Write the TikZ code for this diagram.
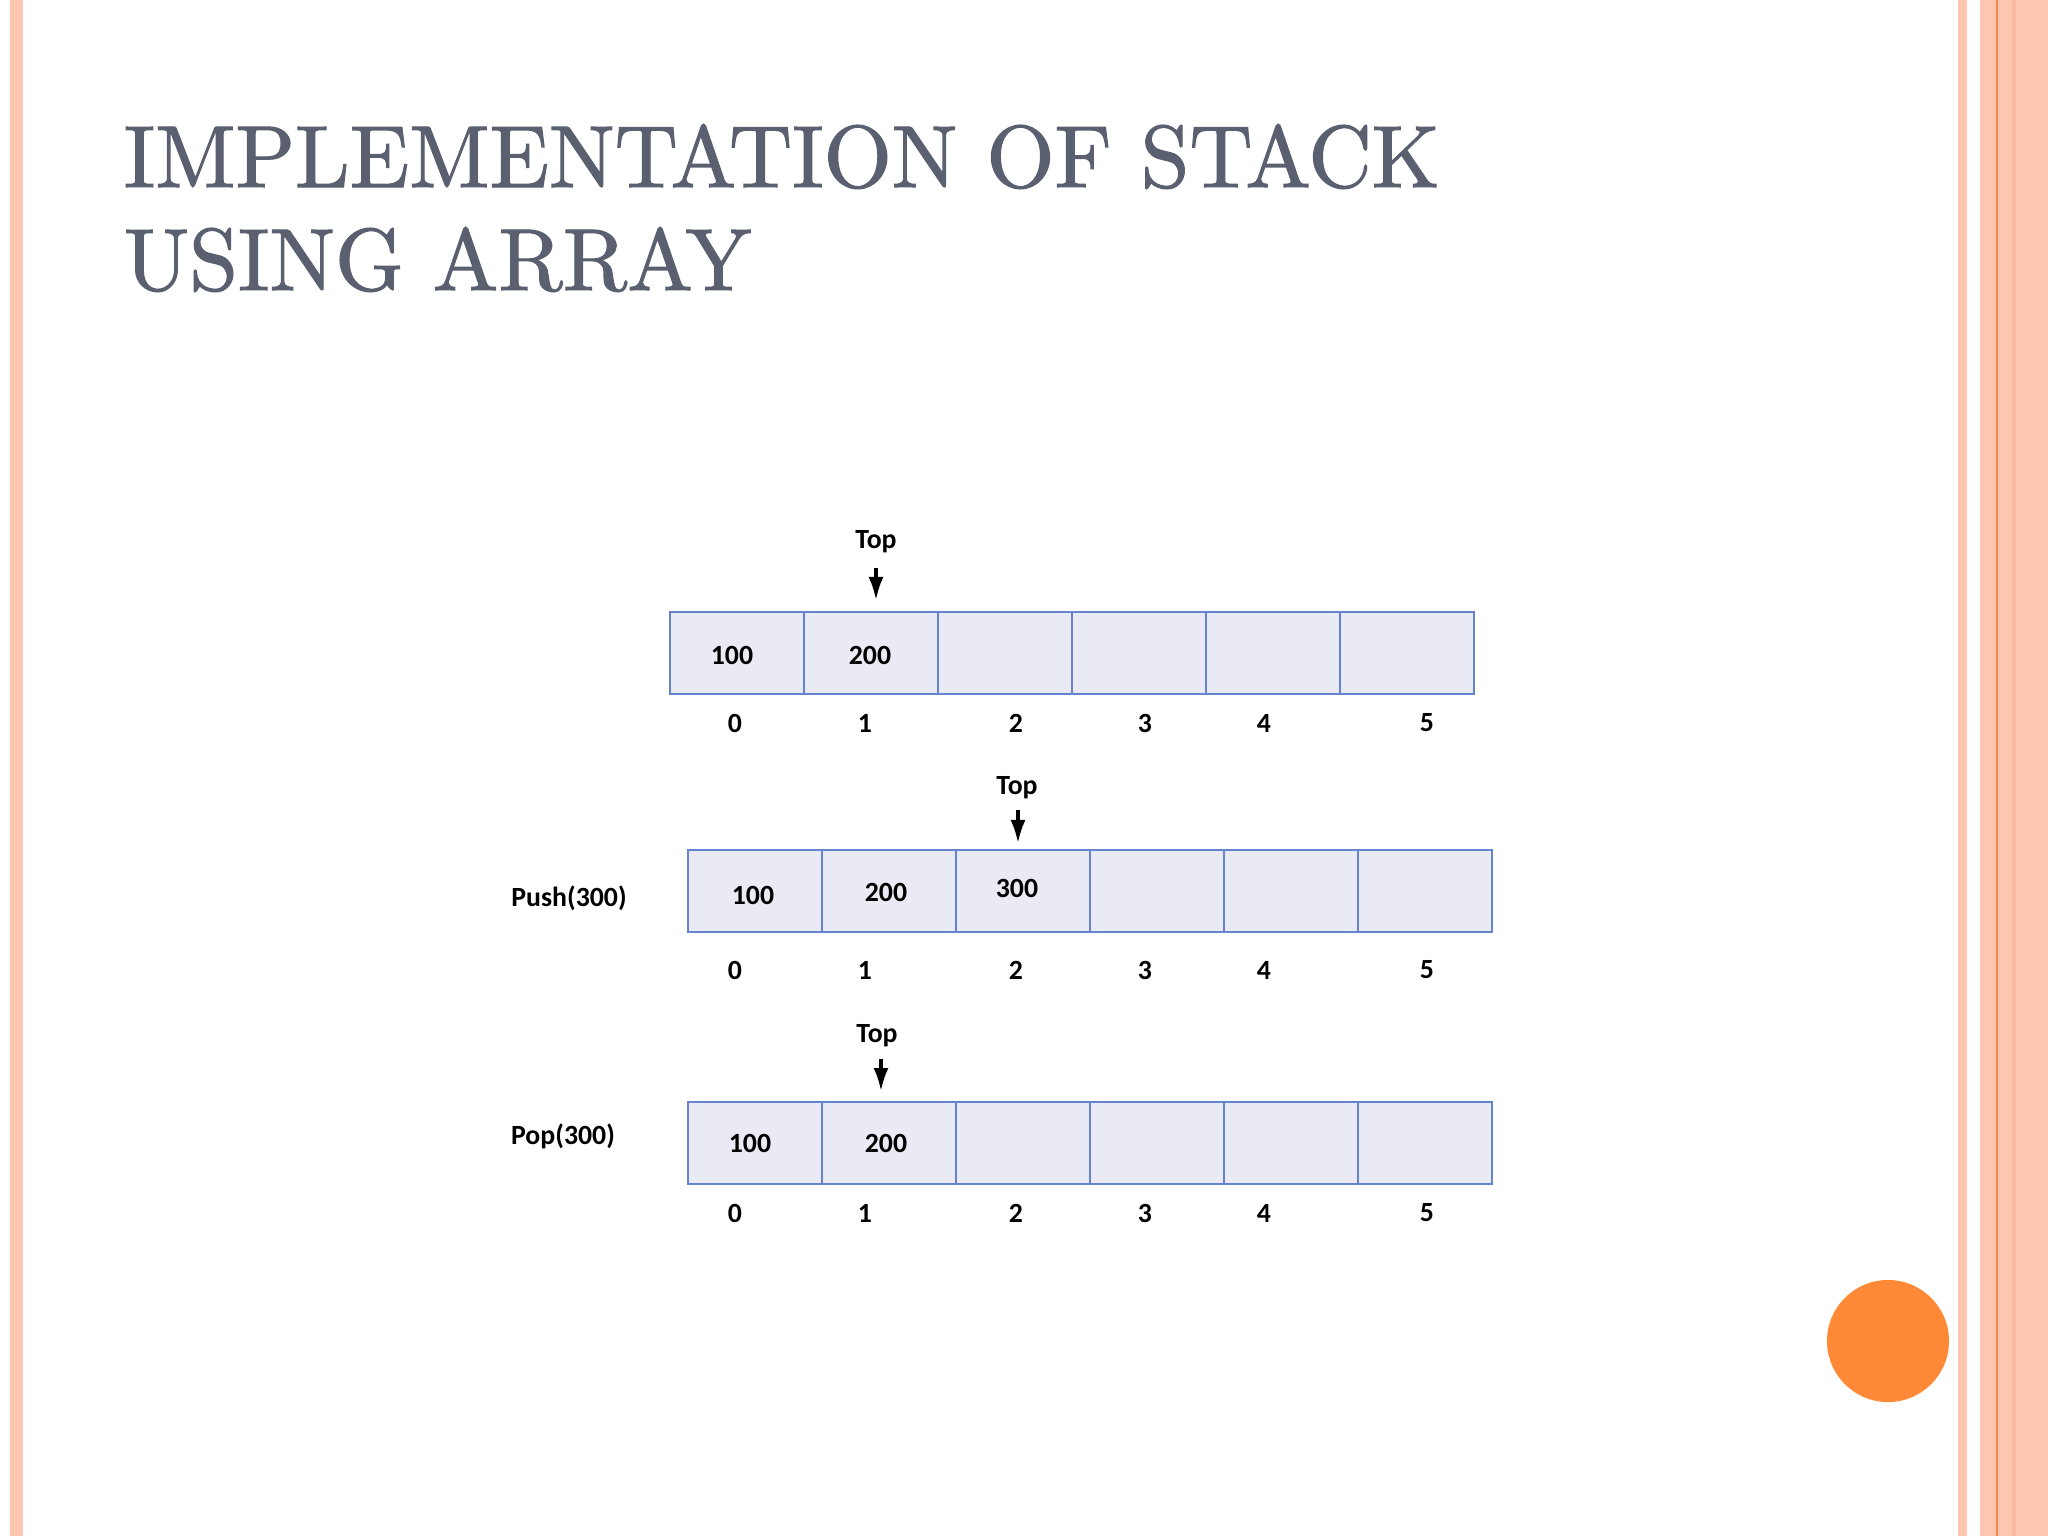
\documentclass[tikz,border=0pt]{standalone}
\usepackage{fontspec}
\newfontfamily\calfont{Carlito}
\newfontfamily\titlefont{lmroman10-regular.otf}[FakeBold=1.3]
\usetikzlibrary{arrows.meta}
\definecolor{peach}{RGB}{252,198,176}
\definecolor{peachdark}{RGB}{250,186,162}
\definecolor{orangeline}{RGB}{247,137,79}
\definecolor{dotorange}{RGB}{255,137,54}
\definecolor{titlegray}{RGB}{90,96,112}
\definecolor{cellfill}{RGB}{233,234,244}
\definecolor{cellline}{RGB}{100,132,208}
\tikzset{
  x=0.01cm, y=-0.01cm,
  cellbox/.style={draw=cellline, line width=1.6pt*0.2845, fill=cellfill, minimum width=1.34cm, minimum height=0.82cm, inner sep=0pt, outer sep=0pt},
  lbl/.style={font=\calfont\bfseries\fontsize{7.9}{9}\selectfont, inner sep=0pt, text=black},
  titletxt/.style={font=\titlefont\fontsize{25}{29}\selectfont, text=titlegray, inner sep=0pt, anchor=base west, xscale=0.995, transform shape},
  toparrow/.style={-{Latex[length=2.3mm,width=1.5mm]}, line width=0.9pt, black}
}
\begin{document}
\begin{tikzpicture}
\useasboundingbox (0,0) rectangle (2048,1536);
\fill[white] (0,0) rectangle (2048,1536);
% side decorations
\fill[peach] (10,0) rectangle (23,1536);
\fill[peach] (1958,0) rectangle (1967,1536);
\fill[peach] (1980,0) rectangle (2048,1536);
\fill[peachdark] (2012,0) rectangle (2016,1536);
\fill[orangeline] (1996,0) rectangle (1998,1536);
\fill[dotorange] (1888,1341) circle[radius=0.61cm];
% title
\node[titletxt] (title1) at (123,187) {IMPLEMENTATION OF STACK};
\node[titletxt] (title2) at (123,290) {USING ARRAY};
% ---------- array 1 ----------
\foreach \i/\cx in {0/737,1/871,2/1005,3/1139,4/1273,5/1407}
  \node[cellbox] (a\i) at (\cx,653) {};
\node[lbl] (a1v0) at (732,655) {100};
\node[lbl] (a1v1) at (870,655) {200};
\node[lbl] (a1top) at (876,542) {Top};
\coordinate (a1s) at (876,568);
\coordinate (a1e) at (876,600);
\draw[toparrow] (a1s) -- (a1e);
% ---------- array 2 ----------
\foreach \i/\cx in {0/755,1/889,2/1023,3/1157,4/1291,5/1425}
  \node[cellbox] (b\i) at (\cx,891) {};
\node[lbl] (b1v0) at (753,895) {100};
\node[lbl] (b1v1) at (886,892) {200};
\node[lbl] (b1v2) at (1017,888) {300};
\node[lbl] (b1top) at (1017,788) {Top};
\coordinate (b1s) at (1018,810);
\coordinate (b1e) at (1018,843);
\draw[toparrow] (b1s) -- (b1e);
\node[lbl] (push) at (569,898) {Push(300)};
% ---------- array 3 ----------
\foreach \i/\cx in {0/755,1/889,2/1023,3/1157,4/1291,5/1425}
  \node[cellbox] (c1\i) at (\cx,1143) {};
\node[lbl] (c1v0) at (750,1143) {100};
\node[lbl] (c1v1) at (886,1143) {200};
\node[lbl] (c1top) at (877,1036) {Top};
\coordinate (c1s) at (881,1059);
\coordinate (c1e) at (881,1091);
\draw[toparrow] (c1s) -- (c1e);
\node[lbl] (pop) at (563,1136) {Pop(300)};
% ---------- indices ----------
\foreach \r/\yy in {1/723,2/970,3/1213}
  \foreach \k/\xx in {0/735,1/865,2/1016,3/1145,4/1264,5/1427}
    \node[lbl] (idx\r\k) at (\xx,\yy) {\k};
\end{tikzpicture}
\end{document}
